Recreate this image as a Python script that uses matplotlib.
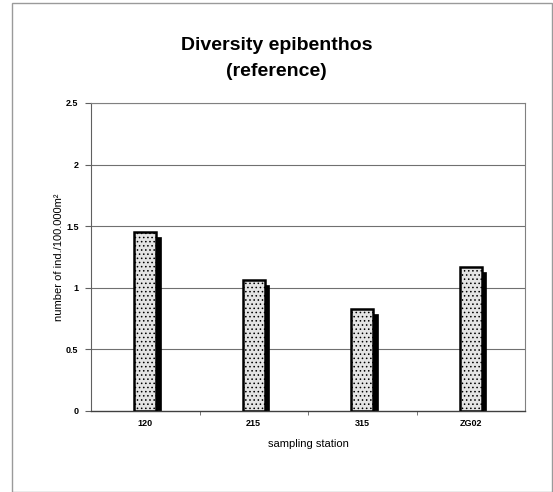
import matplotlib
matplotlib.use("Agg")
import matplotlib.pyplot as plt
from matplotlib.patches import Rectangle
from matplotlib.ticker import FixedLocator, NullFormatter

plt.rcParams['font.family'] = ['Liberation Sans', 'DejaVu Sans']
plt.rcParams['hatch.color'] = "#c2c2c2"
plt.rcParams['hatch.linewidth'] = 0.6

stations = ["120", "215", "315", "ZG02"]
diversity = [1.45, 1.06, 0.83, 1.17]
y_ticks = [0, 0.5, 1, 1.5, 2, 2.5]
y_tick_labels = ["0", "0.5", "1", "1.5", "2", "2.5"]

fig = plt.figure(figsize=(5.53, 4.92), dpi=100)
ax = fig.add_axes([91 / 553, 1 - 411 / 492, (525 - 91) / 553, (411 - 103) / 492])

# outer frame of the chart
fig.patches.append(Rectangle((12 / 553, 0), (552 - 12) / 553, 1 - 3 / 492,
                             transform=fig.transFigure, fill=False,
                             edgecolor="#9a9a9a", linewidth=1.0))

ax.set_xlim(-0.5, len(stations) - 0.5)
ax.set_ylim(0, 2.5)

for y in y_ticks[1:]:
    ax.axhline(y, color="#707070", linewidth=0.8, zorder=1)

bar_w = 0.2
dx, dy = 0.045, 0.04
for i, v in enumerate(diversity):
    # drop shadow
    ax.add_patch(Rectangle((i - bar_w / 2 + dx, 0), bar_w, v - dy,
                           facecolor="black", edgecolor="black", linewidth=0.5, zorder=2))
    # bar body
    ax.bar(i, v, width=bar_w, color="#e4e4e4", edgecolor="black", linewidth=1.8,
           hatch="....", zorder=3)

ax.set_yticks(y_ticks)
ax.set_yticklabels(y_tick_labels, fontsize=6.5, fontweight="bold")
ax.set_xticks(range(len(stations)))
ax.set_xticklabels(stations, fontsize=6.5, fontweight="bold")
ax.tick_params(axis="x", length=0, pad=6)
ax.xaxis.set_minor_locator(FixedLocator([0.5, 1.5, 2.5]))
ax.xaxis.set_minor_formatter(NullFormatter())
ax.tick_params(axis="x", which="minor", length=3, direction="out", color="#606060")
ax.tick_params(axis="y", length=4, direction="out", color="#606060", pad=5)

for s in ["top", "right"]:
    ax.spines[s].set_color("#808080")
    ax.spines[s].set_linewidth(0.8)
ax.spines["left"].set_color("#606060")
ax.spines["bottom"].set_color("#404040")
ax.spines["bottom"].set_linewidth(1.0)

ax.set_xlabel("sampling station", fontsize=8, labelpad=8)
ax.set_ylabel("number of ind./100.000m²", fontsize=8)
ax.yaxis.set_label_coords((64 - 91) / 434, 0.5)

fig.text(0.5, 1 - 45 / 492, "Diversity epibenthos", ha="center", va="center",
         fontsize=14, fontweight="bold")
fig.text(0.5, 1 - 71 / 492, "(reference)", ha="center", va="center",
         fontsize=14, fontweight="bold")

fig.savefig("out.png", dpi=100)
